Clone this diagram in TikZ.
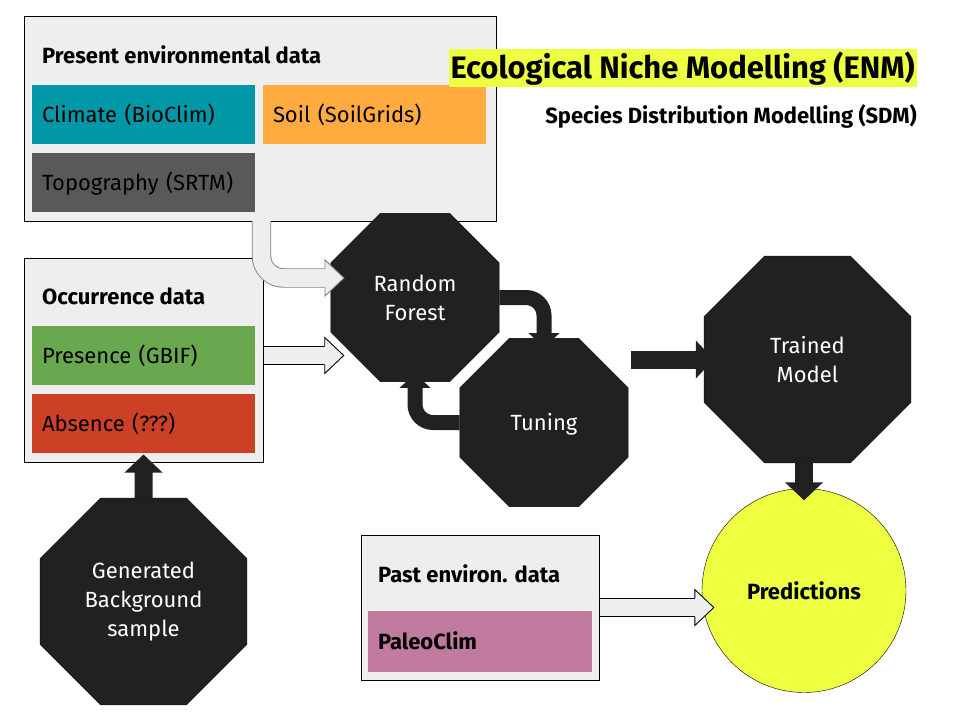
\documentclass[tikz,border=0pt]{standalone}
\usepackage{xcolor}
\usepackage{fontspec}
\setmainfont{Fira Sans}
\usetikzlibrary{shapes.geometric,arrows.meta}

\definecolor{panel}{HTML}{EEEEEE}
\definecolor{climate}{HTML}{0097A7}
\definecolor{soil}{HTML}{FFAB40}
\definecolor{topo}{HTML}{595959}
\definecolor{presence}{HTML}{6AA84F}
\definecolor{absence}{HTML}{CC4125}
\definecolor{paleo}{HTML}{C27BA0}
\definecolor{octa}{HTML}{212121}
\definecolor{lemon}{HTML}{EEFF41}

% head of a light block arrow, pointing right, tip at coordinate #2
\newcommand{\lighthead}[2][black]{%
  \filldraw[lighthead, draw=#1] ([shift={(-19pt,9.3pt)}]#2) -- ([shift={(-19pt,18pt)}]#2)
  -- (#2) -- ([shift={(-19pt,-18pt)}]#2) -- ([shift={(-19pt,-9.3pt)}]#2);}

\begin{document}
\begin{tikzpicture}[x=1pt, y=-1pt]
  \fill[white] (0, 0) rectangle (960, 720);
  \useasboundingbox (0, 0) rectangle (960, 720);
  %
  % styles
  \tikzstyle{group}=[draw=black, fill=panel, line width=1pt, inner sep=0pt];
  \tikzstyle{grouptitle}=[anchor=base west, inner sep=0pt,
    font=\bfseries\fontsize{22}{29}\selectfont];
  \tikzstyle{databox}=[minimum width=223pt, minimum height=59pt,
    text width=203pt, inner xsep=10pt, inner ysep=0pt, align=left,
    text height=15pt, text depth=0pt, font=\fontsize{22}{29}\selectfont];
  \tikzstyle{octagon}=[regular polygon, regular polygon sides=8, fill=octa,
    draw=black, text=white, inner sep=0pt, align=center,
    font=\fontsize{22}{29}\selectfont];
  \tikzstyle{darkarrow}=[draw=octa, line width=15pt, rounded corners=18pt,
    -{Triangle[width=30pt, length=14pt]}];
  \tikzstyle{bigarrow}=[draw=octa, line width=18pt,
    -{Triangle[width=37pt, length=18pt]}];
  \tikzstyle{lightshaft}=[draw=black, line width=0.9pt, double=panel,
    double distance=17.6pt];
  \tikzstyle{lighthead}=[fill=panel, line width=0.9pt, line join=miter];
  %
  % present environmental data
  \node[group, minimum width=472pt, minimum height=205pt] (env) at (260, 118.5) {};
  \node[grouptitle] (envtitle) at (42, 63) {Present environmental data};
  \node[databox, fill=climate] (climate) at (143.5, 114.5) {Climate (BioClim)};
  \node[databox, fill=soil] (soil) at (374.5, 114.5) {Soil (SoilGrids)};
  \node[databox, fill=topo, text=black] (topo) at (143.5, 182.5) {Topography (SRTM)};
  %
  % title
  \node[anchor=east, fill=lemon, minimum height=38pt, inner xsep=2pt,
    inner ysep=0pt, text height=21.4pt, text depth=0pt,
    font=\bfseries\fontsize{31}{36}\selectfont] (enm) at (917, 68)
    {Ecological Niche Modelling (ENM)};
  \node[anchor=base east, inner sep=0pt,
    font=\bfseries\fontsize{22}{29}\selectfont] (sdm) at (917, 123)
    {Species Distribution Modelling (SDM)};
  %
  % occurrence data
  \node[group, minimum width=239pt, minimum height=204pt] (occ) at (143.5, 360) {};
  \node[grouptitle] (occtitle) at (42, 304) {Occurrence data};
  \node[databox, fill=presence] (presence) at (143.5, 355.5) {Presence (GBIF)};
  \node[databox, fill=absence] (absence) at (143.5, 423.5) {Absence (???)};
  %
  % past environmental data
  \node[group, minimum width=238pt, minimum height=145pt] (past) at (480, 607.5) {};
  \node[grouptitle] (pasttitle) at (378, 582) {Past environ. data};
  \node[databox, fill=paleo, minimum width=224pt, minimum height=61pt,
    text width=204pt, font=\bfseries\fontsize{22}{29}\selectfont] (paleo)
    at (480, 641.5) {PaleoClim};
  %
  % model
  \node[octagon, minimum size=182pt] (rf) at (415, 297.5) {Random\\Forest};
  \node[octagon, minimum size=182pt, text height=15pt, text depth=0pt]
    (tuning) at (544, 422.5) {Tuning};
  \node[octagon, minimum size=224pt] (tm) at (807.5, 359.5) {Trained\\Model};
  \node[octagon, minimum size=224pt] (bg) at (143.5, 601.5)
    {Generated\\Background\\sample};
  \node[circle, draw=black, fill=lemon, minimum size=204pt, inner sep=0pt,
    font=\bfseries\fontsize{22}{29}\selectfont] (pred) at (804, 590.5)
    {Predictions};
  %
  % dark arrows
  \draw[darkarrow] (rf.east) -| ([yshift=-9pt]tuning.north);
  \draw[darkarrow] (tuning.west) -| ([yshift=8pt]rf.south);
  \coordinate (tunedOut) at ([xshift=3pt]tuning.east |- tm.west);
  \draw[bigarrow] (tunedOut) -- ([xshift=10pt]tm.west);
  \draw[bigarrow] (tm.south -| pred.north) -- ([yshift=-12pt]pred.north);
  \draw[bigarrow] (bg.north) -- ([yshift=8pt]occ.south);
  %
  % light arrows
  \coordinate (envOut) at (261.5, 221);
  \coordinate (envTip) at (344, 278);
  \draw[lightshaft, draw=gray, rounded corners=22pt] (envOut)
    |- ([xshift=-19pt]envTip);
  \lighthead[gray]{envTip}
  \coordinate (presTip) at ([xshift=13pt]rf.west |- presence.east);
  \draw[lightshaft] (occ.east |- presTip) -- ([xshift=-19pt]presTip);
  \lighthead{presTip}
  \coordinate (pastTip) at ([xshift=12pt]pred.west |- past.east);
  \draw[lightshaft] (past.east) -- ([xshift=-19pt]pastTip);
  \lighthead{pastTip}
\end{tikzpicture}
\end{document}
